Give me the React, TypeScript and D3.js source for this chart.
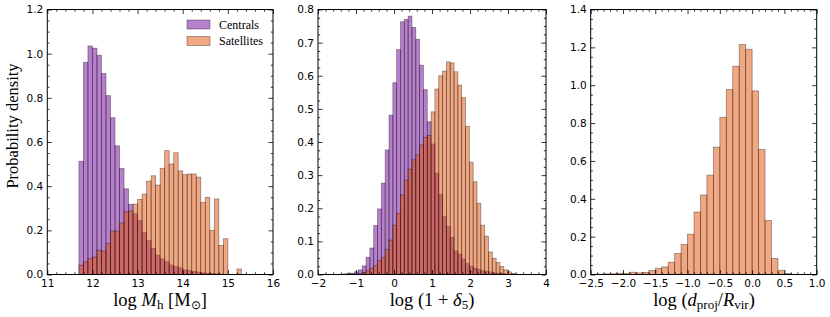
import { useEffect, useRef } from "react"
import * as d3 from "d3"

// Panel 1: log M_h, bins of 0.1 starting at 11.7
const massBinStart = 11.7
const massBinWidth = 0.1
const massCentrals = [
  0.513, 0.961, 1.035, 1.025, 0.993, 0.91, 0.81, 0.71, 0.583, 0.48, 0.388, 0.318, 0.275, 0.245, 0.19, 0.153,
  0.118, 0.088, 0.07, 0.058, 0.043, 0.036, 0.03, 0.021, 0.018, 0.014, 0.011, 0.008, 0.006, 0.004, 0.003, 0.002,
  0.001,
]
const massSatellites = [
  0.042, 0.057, 0.073, 0.079, 0.11, 0.106, 0.141, 0.197, 0.197, 0.233, 0.284, 0.288, 0.319, 0.34, 0.364, 0.423,
  0.447, 0.405, 0.481, 0.561, 0.5, 0.551, 0.469, 0.452, 0.455, 0.455, 0.441, 0.327, 0.349, 0.2, 0.342, 0.132, 0.162,
  0, 0, 0.025,
]

// Panel 2: log(1+delta_5)
const densBinStart = -1.34
const densBinWidth = 0.1007
const densCentrals = [
  0.002, 0.003, 0.004, 0.008, 0.014, 0.026, 0.052, 0.08, 0.148, 0.198, 0.276, 0.376, 0.481, 0.579, 0.679, 0.763,
  0.77, 0.78, 0.746, 0.71, 0.632, 0.558, 0.461, 0.394, 0.306, 0.242, 0.176, 0.145, 0.112, 0.071, 0.062, 0.047,
  0.033, 0.025, 0.019, 0.016, 0.011, 0.01, 0.008, 0.005, 0.004, 0.003, 0.002,
]
const densSatellites = [
  0, 0, 0.001, 0.001, 0.002, 0.006, 0.011, 0.019, 0.026, 0.042, 0.052, 0.076, 0.104, 0.149, 0.185, 0.24, 0.285,
  0.318, 0.346, 0.361, 0.391, 0.414, 0.42, 0.491, 0.56, 0.6, 0.614, 0.642, 0.639, 0.612, 0.572, 0.534, 0.447,
  0.339, 0.28, 0.215, 0.149, 0.116, 0.068, 0.049, 0.036, 0.024, 0.014, 0.008, 0.003,
]

// Panel 3: log(d_proj/R_vir), satellites only
const distBinStart = -2.5
const distBinWidth = 0.1
const distSatellites = [
  0.001, 0.002, 0.003, 0.004, 0.007, 0.005, 0.012, 0.009, 0.011, 0.021, 0.033, 0.04, 0.065, 0.111, 0.158, 0.213,
  0.33, 0.42, 0.525, 0.673, 0.831, 0.977, 1.1, 1.215, 1.19, 0.97, 0.66, 0.285, 0.085, 0.022, 0.005,
]

const massTicks = [11, 12, 13, 14, 15, 16]
const densTicks = [-2, -1, 0, 1, 2, 3, 4]
const distTicks = [-2.5, -2.0, -1.5, -1.0, -0.5, 0.0, 0.5, 1.0]
const massYTicks = [0, 0.2, 0.4, 0.6, 0.8, 1.0, 1.2]
const densYTicks = [0, 0.1, 0.2, 0.3, 0.4, 0.5, 0.6, 0.7, 0.8]
const distYTicks = [0, 0.2, 0.4, 0.6, 0.8, 1.0, 1.2, 1.4]

const legendLabels = ["Centrals", "Satellites"]

const PURPLE = "#6f0299"
const ORANGE = "#e14f05"
const FILL_ALPHA = 0.5

const WIDTH = 830
const HEIGHT = 317
const TOP = 9.5
const BOTTOM = 274.5

export default function App() {
  const svgRef = useRef<SVGSVGElement>(null)

  useEffect(() => {
    if (!svgRef.current) return
    const svg = d3.select(svgRef.current)
    svg.selectAll("*").remove()

    const panels = [
      {
        left: 47.3,
        right: 273,
        xDomain: [11, 16],
        yDomain: [0, 1.2],
        xTicks: massTicks,
        yTicks: massYTicks,
        xMinor: 0.2,
        yMinor: 0.05,
        xFmt: d3.format("d"),
        series: [
          { values: massCentrals, start: massBinStart, width: massBinWidth, color: PURPLE },
          { values: massSatellites, start: massBinStart, width: massBinWidth, color: ORANGE },
        ],
      },
      {
        left: 318,
        right: 546,
        xDomain: [-2, 4],
        yDomain: [0, 0.8],
        xTicks: densTicks,
        yTicks: densYTicks,
        xMinor: 0.2,
        yMinor: 0.025,
        xFmt: d3.format("d"),
        series: [
          { values: densCentrals, start: densBinStart, width: densBinWidth, color: PURPLE },
          { values: densSatellites, start: densBinStart, width: densBinWidth, color: ORANGE },
        ],
      },
      {
        left: 590.7,
        right: 816.7,
        xDomain: [-2.5, 1.0],
        yDomain: [0, 1.4],
        xTicks: distTicks,
        yTicks: distYTicks,
        xMinor: 0.1,
        yMinor: 0.05,
        xFmt: d3.format(".1f"),
        series: [{ values: distSatellites, start: distBinStart, width: distBinWidth, color: ORANGE }],
      },
    ]

    panels.forEach((p) => {
      const x = d3.scaleLinear().domain(p.xDomain).range([p.left, p.right])
      const y = d3.scaleLinear().domain(p.yDomain).range([BOTTOM, TOP])
      const g = svg.append("g")

      // histogram bars
      p.series.forEach((s) => {
        const bars = s.values
          .map((v, i) => ({ x0: s.start + i * s.width, x1: s.start + (i + 1) * s.width, v }))
          .filter((d) => d.v > 0)
        g.append("g")
          .selectAll("rect")
          .data(bars)
          .enter()
          .append("rect")
          .attr("x", (d) => x(d.x0))
          .attr("width", (d) => x(d.x1) - x(d.x0))
          .attr("y", (d) => y(d.v))
          .attr("height", (d) => BOTTOM - y(d.v))
          .attr("fill", s.color)
          .attr("fill-opacity", FILL_ALPHA)
          .attr("stroke", "#000")
          .attr("stroke-opacity", 0.4)
          .attr("stroke-width", 0.8)
      })

      const minorX = d3.range(p.xDomain[0], p.xDomain[1] + 1e-9, p.xMinor).filter(
        (v) => !p.xTicks.some((t) => Math.abs(t - v) < 1e-6)
      )
      const minorY = d3.range(p.yDomain[0], p.yDomain[1] + 1e-9, p.yMinor).filter(
        (v) => !p.yTicks.some((t) => Math.abs(t - v) < 1e-6)
      )

      const styleAxis = (sel: any) => {
        sel.attr("font-size", null).attr("font-family", null)
        sel.select(".domain").remove()
        sel.selectAll("line").attr("stroke", "#000").attr("stroke-width", 0.8)
        sel.selectAll("text").attr("font-family", "DejaVu Sans").attr("font-size", 10.5).attr("fill", "#000")
      }

      // bottom axis (labels) + minor
      g.append("g")
        .attr("transform", `translate(0,${BOTTOM})`)
        .call(d3.axisBottom(x).tickValues(p.xTicks).tickSize(-4.5).tickPadding(5).tickFormat(p.xFmt as any))
        .call(styleAxis)
      g.append("g")
        .attr("transform", `translate(0,${BOTTOM})`)
        .call(d3.axisBottom(x).tickValues(minorX).tickSize(-2.2).tickFormat(() => ""))
        .call(styleAxis)
      // top axis
      g.append("g")
        .attr("transform", `translate(0,${TOP})`)
        .call(d3.axisTop(x).tickValues(p.xTicks).tickSize(-4.5).tickFormat(() => ""))
        .call(styleAxis)
      g.append("g")
        .attr("transform", `translate(0,${TOP})`)
        .call(d3.axisTop(x).tickValues(minorX).tickSize(-2.2).tickFormat(() => ""))
        .call(styleAxis)
      // left axis
      g.append("g")
        .attr("transform", `translate(${p.left},0)`)
        .call(d3.axisLeft(y).tickValues(p.yTicks).tickSize(-4.5).tickPadding(4).tickFormat(d3.format(".1f") as any))
        .call(styleAxis)
      g.append("g")
        .attr("transform", `translate(${p.left},0)`)
        .call(d3.axisLeft(y).tickValues(minorY).tickSize(-2.2).tickFormat(() => ""))
        .call(styleAxis)
      // right axis
      g.append("g")
        .attr("transform", `translate(${p.right},0)`)
        .call(d3.axisRight(y).tickValues(p.yTicks).tickSize(-4.5).tickFormat(() => ""))
        .call(styleAxis)
      g.append("g")
        .attr("transform", `translate(${p.right},0)`)
        .call(d3.axisRight(y).tickValues(minorY).tickSize(-2.2).tickFormat(() => ""))
        .call(styleAxis)

      // frame
      g.append("rect")
        .attr("x", p.left)
        .attr("y", TOP)
        .attr("width", p.right - p.left)
        .attr("height", BOTTOM - TOP)
        .attr("fill", "none")
        .attr("stroke", "#000")
        .attr("stroke-width", 1)
    })

    // legend in first panel
    const legend = svg.append("g").attr("transform", "translate(187,20)")
    legendLabels.forEach((label, i) => {
      const item = legend.append("g").attr("transform", `translate(0,${i * 16.5})`)
      item
        .append("rect")
        .attr("width", 23)
        .attr("height", 9)
        .attr("fill", i === 0 ? PURPLE : ORANGE)
        .attr("fill-opacity", FILL_ALPHA)
        .attr("stroke", "#000")
        .attr("stroke-opacity", 0.4)
        .attr("stroke-width", 0.8)
      item
        .append("text")
        .attr("x", 32)
        .attr("y", 8.5)
        .attr("font-family", "Liberation Serif")
        .attr("font-size", 12)
        .text(label)
    })

    // axis labels
    const serif = "Liberation Serif"
    svg
      .append("text")
      .attr("transform", "translate(18,126) rotate(-90)")
      .attr("text-anchor", "middle")
      .attr("font-family", serif)
      .attr("font-size", 16.5)
      .text("Probability density")

    const labelY = 306
    const xl1 = svg
      .append("text")
      .attr("x", 160)
      .attr("y", labelY)
      .attr("text-anchor", "middle")
      .attr("font-family", serif)
      .attr("font-size", 18.5)
    xl1.append("tspan").text("log ")
    xl1.append("tspan").attr("font-style", "italic").text("M")
    xl1.append("tspan").attr("font-size", 13).attr("dy", 3).text("h")
    xl1.append("tspan").attr("dy", -3).text(" [M")
    xl1.append("tspan").attr("font-size", 12).attr("dy", 3).text("⊙")
    xl1.append("tspan").attr("dy", -3).text("]")

    const xl2 = svg
      .append("text")
      .attr("x", 432)
      .attr("y", labelY)
      .attr("text-anchor", "middle")
      .attr("font-family", serif)
      .attr("font-size", 18.5)
    xl2.append("tspan").text("log (1 + ")
    xl2.append("tspan").attr("font-style", "italic").text("δ")
    xl2.append("tspan").attr("font-size", 13).attr("dy", 3).text("5")
    xl2.append("tspan").attr("dy", -3).text(")")

    const xl3 = svg
      .append("text")
      .attr("x", 704)
      .attr("y", labelY)
      .attr("text-anchor", "middle")
      .attr("font-family", serif)
      .attr("font-size", 18.5)
    xl3.append("tspan").text("log (")
    xl3.append("tspan").attr("font-style", "italic").text("d")
    xl3.append("tspan").attr("font-size", 13).attr("dy", 3).text("proj")
    xl3.append("tspan").attr("dy", -3).text("/")
    xl3.append("tspan").attr("font-style", "italic").text("R")
    xl3.append("tspan").attr("font-size", 13).attr("dy", 3).text("vir")
    xl3.append("tspan").attr("dy", -3).text(")")
  }, [])

  return (
    <div style={{ position: "absolute", left: 0, top: 0, width: WIDTH, height: HEIGHT, background: "#fff" }}>
      <svg ref={svgRef} width={WIDTH} height={HEIGHT} style={{ display: "block" }} />
    </div>
  )
}
